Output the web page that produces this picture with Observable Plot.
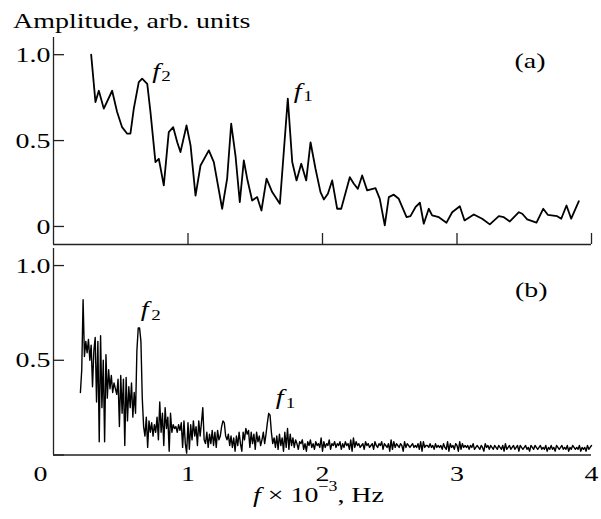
<!DOCTYPE html>
<html><head><meta charset="utf-8">
<script src="https://cdn.jsdelivr.net/npm/d3@7"></script>
<script src="https://cdn.jsdelivr.net/npm/@observablehq/plot@0.6"></script>
<style>
body{margin:0;background:#fff;}
#wrap{position:relative;width:601px;height:519px;font-family:"Liberation Serif","Times New Roman",serif;color:#000;}
.abs{position:absolute;}
#title{left:13px;top:9.6px;font-size:22px;line-height:22px;white-space:nowrap;transform:scaleX(1.27);transform-origin:0 0;}
#xlabel{left:253px;top:486.6px;font-size:22px;line-height:16px;white-space:nowrap;transform:scaleX(1.27);transform-origin:0 0;}
#xlabel sup{font-size:14px;line-height:0;vertical-align:11px;}
</style></head>
<body><div id="wrap">
<div id="top" class="abs" style="left:0;top:0"></div>
<div id="bot" class="abs" style="left:0;top:240px"></div>
<div id="title" class="abs">Amplitude, arb. units</div>
<div id="xlabel" class="abs"><i>f</i> × 10<sup>−3</sup>, Hz</div>
</div>
<script>
// ---- Panel (a) data ----
const freqA = [0.28,0.312,0.337,0.374,0.436,0.473,0.51,0.548,0.572,0.597,0.634,0.659,0.697,0.721,0.758,0.783,0.82,0.857,0.89,0.92,0.944,0.989,1.019,1.056,1.093,1.155,1.192,1.254,1.291,1.321,1.353,1.385,1.415,1.44,1.477,1.514,1.546,1.584,1.626,1.683,1.742,1.775,1.807,1.842,1.879,1.911,1.948,1.985,2.01,2.04,2.072,2.109,2.139,2.203,2.233,2.263,2.295,2.332,2.394,2.426,2.463,2.493,2.53,2.567,2.625,2.654,2.691,2.724,2.753,2.79,2.815,2.865,2.922,2.964,3.021,3.056,3.125,3.187,3.244,3.311,3.348,3.393,3.46,3.485,3.522,3.591,3.641,3.675,3.745,3.775,3.814,3.849,3.906];
const ampA = [1.0,0.724,0.79,0.686,0.79,0.666,0.578,0.54,0.54,0.686,0.84,0.86,0.83,0.666,0.375,0.394,0.239,0.549,0.578,0.49,0.433,0.588,0.472,0.18,0.355,0.443,0.375,0.103,0.278,0.598,0.413,0.142,0.384,0.278,0.151,0.171,0.093,0.278,0.2,0.132,0.744,0.375,0.268,0.365,0.268,0.49,0.336,0.2,0.157,0.19,0.268,0.103,0.103,0.287,0.249,0.219,0.297,0.21,0.223,0.161,0.006,0.171,0.185,0.161,0.054,0.06,0.112,0.138,0.016,0.103,0.064,0.054,0.022,0.083,0.118,0.035,0.07,0.045,0.012,0.06,0.054,0.029,0.083,0.074,0.041,0.022,0.103,0.068,0.06,0.045,0.122,0.045,0.147];

// ---- Panel (b) data: spectrum sampled from freqB0 in steps of freqBStep ----
const freqB0 = 0.20, freqBStep = 0.01;
const ampB = [
0.33,0.45,0.82,0.52,0.60,0.54,0.61,0.50,0.58,0.36,
0.55,0.62,0.28,0.60,0.07,0.63,0.25,0.50,0.07,0.53,
0.30,0.45,0.35,0.42,0.33,0.38,0.35,0.32,0.40,0.15,
0.42,0.22,0.40,0.05,0.41,0.18,0.36,0.25,0.38,0.20,
0.33,0.22,0.55,0.67,0.67,0.60,0.30,0.15,0.10,0.20,
0.04,0.18,0.12,0.17,0.10,0.16,0.12,0.20,0.08,0.28,
0.12,0.22,0.05,0.25,0.14,0.20,0.02,0.22,0.12,0.16,
0.14,0.15,0.12,0.16,0.13,0.17,0.04,0.18,0.06,0.01,
0.17,0.03,0.16,0.08,0.18,0.10,0.15,0.05,0.18,0.10,
0.17,0.25,0.08,0.06,0.12,0.04,0.11,0.06,0.13,0.05,
0.12,0.04,0.13,0.08,0.10,0.15,0.18,0.17,0.10,0.08,
0.11,0.05,0.10,0.04,0.09,0.02,0.10,0.05,0.12,0.06,
0.02,0.12,0.08,0.14,0.11,0.13,0.04,0.12,0.06,0.11,
0.03,0.12,0.07,0.10,0.05,0.08,0.12,0.06,0.11,0.17,
0.22,0.21,0.12,0.06,0.09,0.04,0.10,0.03,0.11,0.05,
0.09,0.02,0.12,0.04,0.14,0.03,0.11,0.05,0.09,0.04,
0.08,0.06,0.03,0.07,0.06,0.08,0.03,0.06,0.02,0.07,
0.05,0.08,0.04,0.06,0.03,0.07,0.05,0.06,0.04,0.09,
0.02,0.07,0.04,0.06,0.05,0.08,0.03,0.06,0.05,0.07,
0.04,0.06,0.05,0.07,0.03,0.06,0.04,0.07,0.05,0.06,
0.03,0.08,0.02,0.09,0.04,0.07,0.05,0.06,0.04,0.05,
0.06,0.03,0.07,0.05,0.06,0.04,0.05,0.06,0.03,0.07,
0.05,0.04,0.06,0.05,0.07,0.03,0.06,0.05,0.04,0.06,
0.02,0.08,0.03,0.07,0.04,0.06,0.05,0.04,0.06,0.05,
0.02,0.07,0.04,0.06,0.05,0.04,0.05,0.06,0.04,0.05,
0.04,0.06,0.03,0.07,0.02,0.07,0.04,0.05,0.05,0.04,
0.06,0.04,0.05,0.03,0.06,0.04,0.05,0.04,0.05,0.03,
0.06,0.04,0.03,0.07,0.02,0.06,0.04,0.05,0.03,0.06,
0.05,0.02,0.07,0.03,0.06,0.04,0.05,0.04,0.05,0.03,
0.05,0.04,0.06,0.03,0.04,0.05,0.04,0.03,0.05,0.04,
0.02,0.06,0.04,0.05,0.03,0.05,0.04,0.03,0.05,0.04,
0.03,0.05,0.04,0.03,0.05,0.02,0.06,0.03,0.04,0.05,
0.03,0.04,0.05,0.03,0.04,0.05,0.02,0.05,0.04,0.03,
0.04,0.05,0.03,0.04,0.02,0.05,0.04,0.03,0.05,0.04,
0.03,0.04,0.05,0.03,0.04,0.03,0.05,0.02,0.04,0.03,
0.05,0.03,0.04,0.02,0.05,0.04,0.03,0.04,0.05,0.03,
0.04,0.03,0.05,0.02,0.04,0.03,0.05,0.04,0.03,0.04,
0.03,0.05,0.02,0.04,0.03,0.04,0.02,0.05,0.03,0.04,
0.05];

// ---- Ticks / labels ----
const xTicks = [1, 2, 3, 4];
const yTicksA = [0, 0.5, 1.0];
const yTicksB = [0, 0.5, 1.0];
const yLabelsB = [0.5, 1.0];
const panelA = "(a)", panelB = "(b)";
const peaksA = [{sub: "2", f: 0.659}, {sub: "1", f: 1.742}];
const peaksB = [{sub: "2", f: 0.63}, {sub: "1", f: 1.60}];

const dataA = freqA.map((f, i) => ({f, a: ampA[i]}));
const dataB = ampB.map((a, i) => ({f: +(freqB0 + i * freqBStep).toFixed(3), a}));

const W = 601, ML = 53, MR = 10;
const xDomain = [0, 4];
const pxPerX = (W - ML - MR) / (xDomain[1] - xDomain[0]);
const font = `"Liberation Serif", "Times New Roman", serif`;
const axisColor = "#222";
const STRETCH = 1.27; // the reference typesetting is horizontally wide
const fmt = d => d === 0 ? "0" : d.toFixed(1);

function nearest(data, f0) {
  return data.reduce((b, d) => Math.abs(d.f - f0) < Math.abs(b.f - f0) ? d : b);
}
function peakLabel(data, pk, o) {
  const p = nearest(data, pk.f);
  return [
    Plot.text([p], {x: "f", y: "a", text: () => "f", fontStyle: "italic", fontSize: 22,
      textAnchor: "start", lineAnchor: "bottom", dx: o.fdx, dy: o.fdy}),
    Plot.text([p], {x: "f", y: "a", text: () => pk.sub, fontSize: 15,
      textAnchor: "start", lineAnchor: "bottom", dx: o.sdx, dy: o.sdy})
  ];
}
function widen(svg) {
  svg.querySelectorAll("text").forEach(t => {
    const L = t.getComputedTextLength();
    if (L > 0) {
      t.setAttribute("textLength", (L * STRETCH).toFixed(2));
      t.setAttribute("lengthAdjust", "spacingAndGlyphs");
    }
  });
}

// ---- Panel (a) ----
const HA = 246, MTA = 37, MBA = 2;
const yDomA = [-0.105, 1.10];
const pxPerYA = (HA - MTA - MBA) / (yDomA[1] - yDomA[0]);
const plotA = Plot.plot({
  width: W, height: HA, marginLeft: ML, marginRight: MR, marginTop: MTA, marginBottom: MBA,
  style: {fontFamily: font, fontSize: "22px", background: "transparent", overflow: "visible", color: "#000"},
  x: {domain: xDomain, axis: null},
  y: {domain: yDomA, ticks: yTicksA, tickSize: 0, tickPadding: 3, tickFormat: fmt, label: null},
  marks: [
    Plot.ruleX([xDomain[0]], {stroke: axisColor, strokeWidth: 1.3}),
    Plot.ruleY([yDomA[0]], {stroke: axisColor, strokeWidth: 1.3}),
    Plot.ruleY(yTicksA, {y: d => d, x1: xDomain[0], x2: xDomain[0] + 11 / pxPerX, stroke: axisColor, strokeWidth: 1.3}),
    Plot.ruleX(xTicks, {x: d => d, y1: yDomA[0], y2: yDomA[0] + 11 / pxPerYA, stroke: axisColor, strokeWidth: 1.3}),
    Plot.line(dataA, {x: "f", y: "a", stroke: "#000", strokeWidth: 1.8, strokeLinejoin: "round"}),
    ...peakLabel(dataA, peaksA[0], {fdx: 10, fdy: -1, sdx: 19, sdy: 2}),
    ...peakLabel(dataA, peaksA[1], {fdx: 6, fdy: -1, sdx: 15.5, sdy: 2}),
    Plot.text([panelA], {frameAnchor: "top-right", textAnchor: "end", lineAnchor: "bottom", dx: -46, dy: 30, fontSize: 22})
  ]
});
document.getElementById("top").append(plotA);
widen(plotA);

// ---- Panel (b) ----
const HB = 279, MTB = 8, MBB = 64.5;
const yDomB = [0, 1.09];
const plotB = Plot.plot({
  width: W, height: HB, marginLeft: ML, marginRight: MR, marginTop: MTB, marginBottom: MBB,
  style: {fontFamily: font, fontSize: "22px", background: "transparent", overflow: "visible", color: "#000"},
  x: {domain: xDomain, ticks: xTicks, tickSize: 0, tickPadding: 10, tickFormat: d => String(d), label: null},
  y: {domain: yDomB, ticks: yLabelsB, tickSize: 0, tickPadding: 3, tickFormat: fmt, label: null},
  marks: [
    Plot.ruleX([xDomain[0]], {stroke: axisColor, strokeWidth: 1.3}),
    Plot.ruleY(yTicksB, {y: d => d, x1: xDomain[0], x2: xDomain[0] + 11 / pxPerX, stroke: axisColor, strokeWidth: 1.3}),
    Plot.line(dataB, {x: "f", y: "a", stroke: "#000", strokeWidth: 1.4, strokeLinejoin: "round"}),
    Plot.ruleY([yDomB[0]], {stroke: axisColor, strokeWidth: 1.6}),
    ...peakLabel(dataB, peaksB[0], {fdx: 2.5, fdy: -12, sdx: 13, sdy: -8}),
    ...peakLabel(dataB, peaksB[1], {fdx: 7, fdy: -9, sdx: 17, sdy: -5}),
    Plot.text(["0"], {x: xDomain[0], frameAnchor: "bottom", lineAnchor: "top", dx: -13, dy: 10, fontSize: 22}),
    Plot.text([panelB], {frameAnchor: "top-right", textAnchor: "end", lineAnchor: "bottom", dx: -44, dy: 48, fontSize: 22})
  ]
});
document.getElementById("bot").append(plotB);
widen(plotB);
</script>
</body></html>
